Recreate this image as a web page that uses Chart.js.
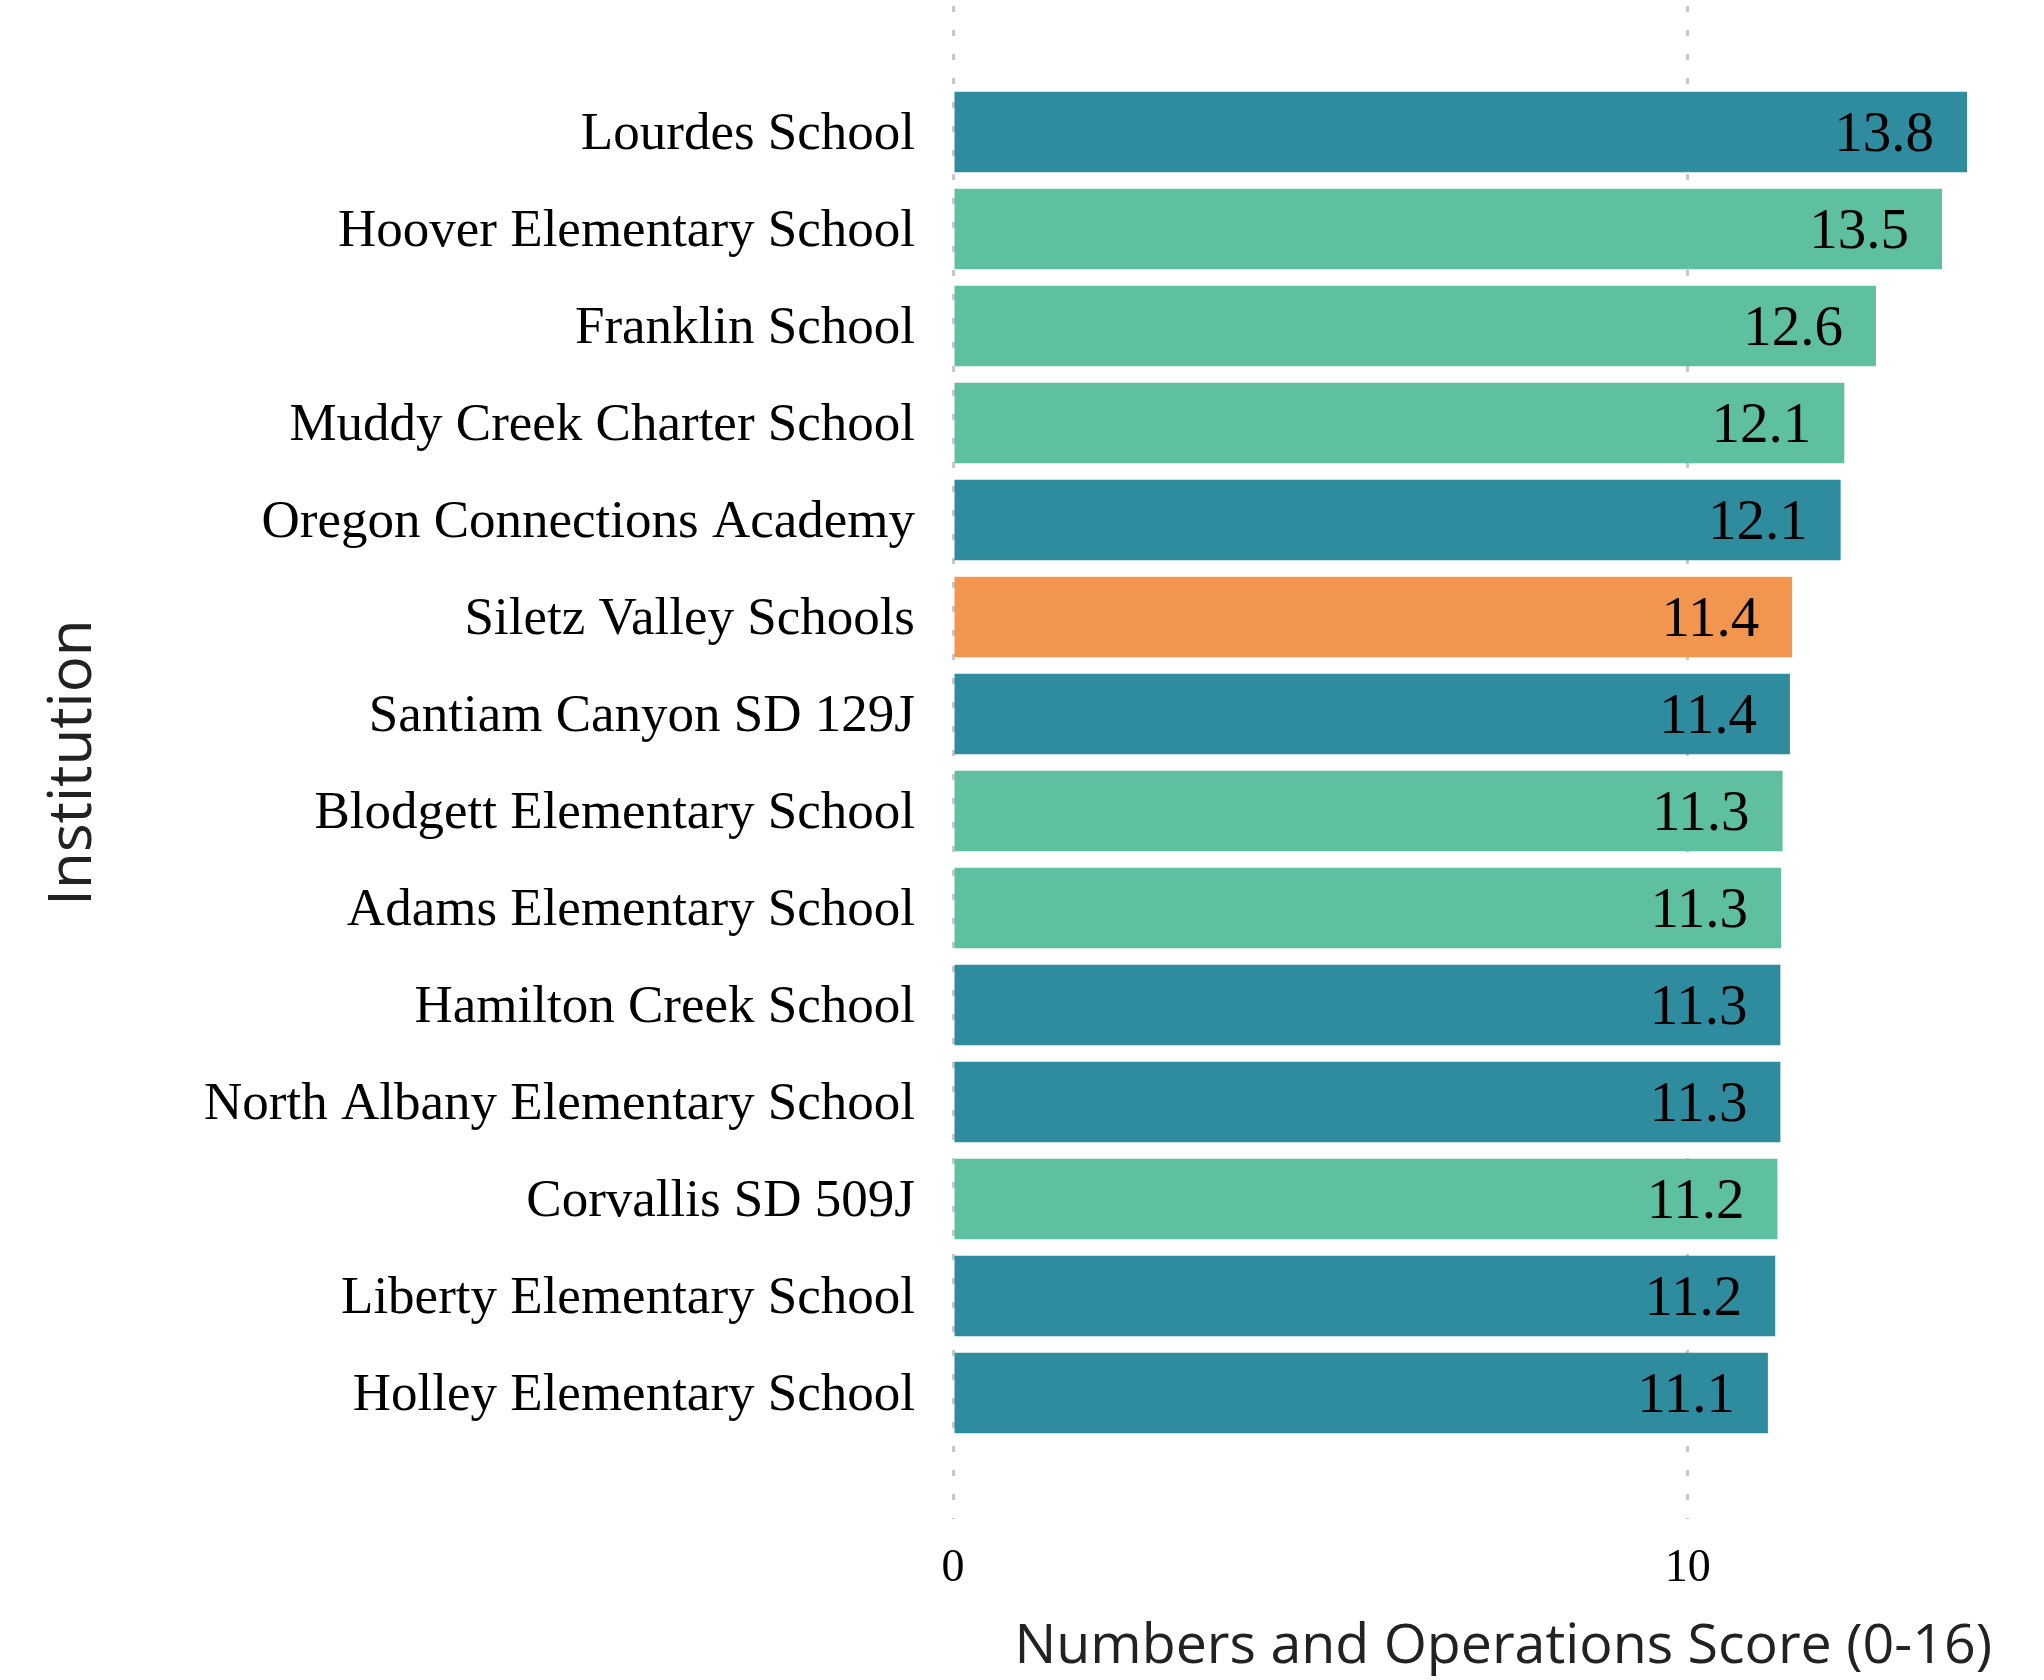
<!DOCTYPE html>
<html>
<head>
<meta charset="utf-8">
<script src="https://cdn.jsdelivr.net/npm/chart.js@4/dist/chart.umd.min.js"></script>
<style>
  body { margin: 0; background: #fff; }
</style>
</head>
<body>
<canvas id="scoreChart" width="2044" height="1680"></canvas>
<script>
// Schools, top to bottom, with their scores.
const institutions = [
    'Lourdes School', 'Hoover Elementary School', 'Franklin School', 'Muddy Creek Charter School',
    'Oregon Connections Academy', 'Siletz Valley Schools', 'Santiam Canyon SD 129J',
    'Blodgett Elementary School', 'Adams Elementary School', 'Hamilton Creek School',
    'North Albany Elementary School', 'Corvallis SD 509J', 'Liberty Elementary School',
    'Holley Elementary School'
];
const scores = [13.8, 13.46, 12.56, 12.13, 12.08, 11.42, 11.39, 11.29, 11.27, 11.26, 11.26, 11.22, 11.19, 11.09];
const barGroup = ['teal', 'green', 'green', 'green', 'teal', 'orange', 'teal', 'green', 'green', 'teal', 'teal', 'green', 'teal', 'teal'];
const xTicks = [0, 10];

const palette = { teal: 'rgb(46,140,158)', green: 'rgb(94,192,161)', orange: 'rgb(242,149,78)' };

// Print the score inside the right end of each bar.
const valueLabels = {
    id: 'valueLabels',
    afterDatasetsDraw(chart) {
        let ctx = chart.ctx;
        let meta = chart.getDatasetMeta(0);
        ctx.save();
        ctx.font = '57px "Liberation Serif"';
        ctx.fillStyle = '#000';
        ctx.textAlign = 'right';
        ctx.textBaseline = 'middle';
        meta.data.forEach((bar, i) => {
            ctx.fillText(scores[i].toFixed(1), bar.x - 33, bar.y + 4);
        });
        ctx.restore();
    }
};

// Label sizes should not push the plot area in; the gridlines run nearly the full height.
function noLabelPadding(scale) {
    scale.paddingTop = 0;
    scale.paddingBottom = 0;
}

let ctx = document.getElementById('scoreChart').getContext('2d');
let chart = new Chart(ctx, {
    type: 'bar',
    data: {
        datasets: [{
            data: scores.map((s, i) => ({ x: s, y: i + 1 })),
            backgroundColor: barGroup.map(g => palette[g]),
            barPercentage: 0.83,
            categoryPercentage: 1
        }]
    },
    options: {
        indexAxis: 'y',
        responsive: false,
        animation: false,
        layout: { padding: { top: 6, right: 52, left: 0, bottom: 0 } },
        plugins: { legend: { display: false }, tooltip: { enabled: false } },
        scales: {
            x: {
                type: 'linear',
                min: 0,
                max: 14.14,
                afterBuildTicks: scale => { scale.ticks = xTicks.map(v => ({ value: v })); },
                afterFit: scale => { scale.height = 161; },
                border: { display: false, dash: [6, 18] },
                grid: { color: 'rgb(200,200,200)', lineWidth: 3, drawTicks: false },
                ticks: { padding: 22, color: '#000', font: { family: 'Liberation Serif', size: 46 } },
                title: {
                    display: true,
                    text: 'Numbers and Operations Score (0-16)',
                    align: 'end',
                    color: '#222',
                    padding: 0,
                    font: { family: 'Open Sans', size: 55.5 }
                }
            },
            y: {
                type: 'linear',
                reverse: true,
                offset: false,
                min: -0.3,
                max: 15.3,
                afterBuildTicks: scale => { scale.ticks = institutions.map((n, i) => ({ value: i + 1 })); },
                afterFit: scale => { scale.width = 953; noLabelPadding(scale); },
                border: { display: false },
                grid: { display: false, drawTicks: false, offset: false },
                ticks: {
                    padding: 38,
                    labelOffset: 3,
                    color: '#000',
                    font: { family: 'Liberation Serif', size: 53 },
                    callback: v => institutions[v - 1]
                },
                title: {
                    display: true,
                    text: 'Institution',
                    color: '#222',
                    padding: { top: 38, bottom: 0 },
                    font: { family: 'Open Sans', size: 60 }
                }
            }
        }
    },
    plugins: [valueLabels]
});
</script>
</body>
</html>
